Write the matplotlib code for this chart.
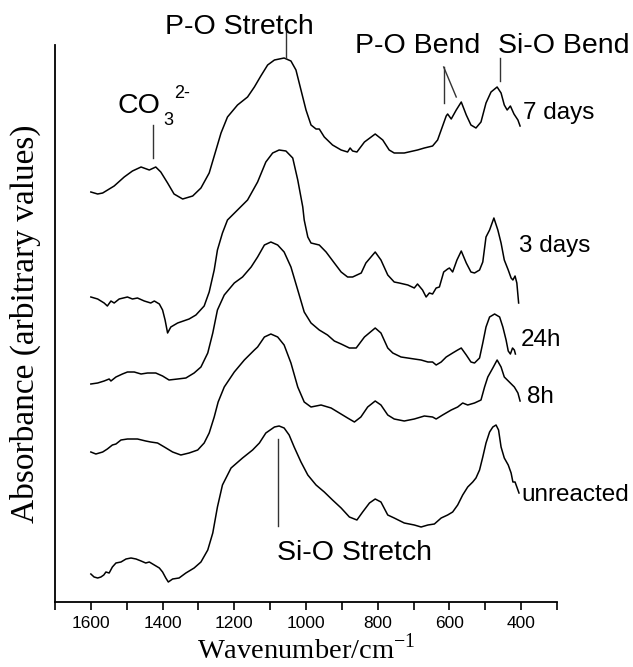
import numpy as np
import matplotlib
matplotlib.use('Agg')
import matplotlib.pyplot as plt
from matplotlib.ticker import MultipleLocator

# ─────────────────────────────────────────────
# 数据 (wavenumber / cm-1, absorbance in arbitrary units, offset stacked)
# ─────────────────────────────────────────────
wn_7d = [1600, 1581, 1567, 1535, 1507, 1484, 1460, 1437, 1419, 1405, 1386, 1368,
         1344, 1316, 1293, 1270, 1251, 1237, 1219, 1191, 1163, 1144, 1126, 1107,
         1088, 1061, 1042, 1028, 1014, 1000, 986, 972, 963, 949, 926, 902, 884,
         877, 870, 858, 837, 807, 786, 768, 754, 726, 689, 670, 647, 633, 623,
         609, 605, 595, 581, 567, 553, 540, 526, 512, 498, 484, 467, 456, 447,
         439, 430, 420, 409, 403]
abs_7d = [410, 408, 409, 416, 425, 431, 435, 432, 435, 430, 419, 408,
          403, 406, 414, 429, 452, 469, 485, 497, 505, 515, 526, 537,
          542, 544, 541, 532, 512, 492, 477, 473, 473, 465, 457, 452, 450,
          454, 451, 450, 460, 468, 462, 452, 449, 449, 452, 454, 456, 462, 472,
          486, 488, 483, 492, 500, 487, 477, 474, 480, 499, 510, 515, 509, 497,
          492, 496, 488, 482, 476]

wn_3d = [1600, 1581, 1563, 1554, 1544, 1535, 1521, 1498, 1484, 1470, 1451, 1433,
         1423, 1409, 1400, 1393, 1386, 1377, 1358, 1326, 1307, 1284, 1270, 1256,
         1247, 1233, 1219, 1191, 1163, 1135, 1112, 1093, 1075, 1056, 1037, 1023,
         1009, 1005, 995, 986, 963, 944, 921, 902, 884, 870, 846, 833, 807, 791,
         772, 754, 740, 716, 698, 689, 675, 665, 656, 647, 637, 628, 616, 605,
         600, 591, 579, 567, 553, 540, 530, 516, 507, 498, 488, 476, 465, 456,
         447, 436, 428, 423, 417, 412, 407]
abs_3d = [305, 303, 299, 296, 301, 299, 303, 305, 303, 304, 301, 299,
          301, 298, 292, 282, 269, 275, 279, 283, 287, 296, 310, 332,
          352, 369, 382, 392, 402, 420, 440, 449, 452, 451, 444, 422,
          395, 382, 365, 359, 357, 350, 339, 330, 325, 325, 329, 339, 350, 342,
          327, 320, 319, 317, 314, 318, 312, 305, 309, 308, 314, 315, 330, 333,
          334, 330, 342, 351, 339, 330, 329, 332, 340, 365, 372, 384, 372, 359,
          342, 332, 324, 322, 326, 319, 299]

wn_24h = [1600, 1581, 1563, 1549, 1544, 1530, 1512, 1498, 1479, 1460, 1442, 1419,
          1400, 1382, 1358, 1335, 1312, 1293, 1274, 1260, 1247, 1228, 1200, 1177,
          1153, 1135, 1116, 1098, 1079, 1061, 1042, 1023, 1005, 986, 963, 940,
          921, 902, 879, 860, 837, 807, 791, 772, 758, 735, 698, 679, 660, 647,
          637, 623, 609, 591, 577, 567, 553, 540, 530, 516, 507, 498, 488, 474,
          460, 451, 442, 436, 430, 424, 419, 416]
abs_24h = [218, 219, 221, 223, 221, 225, 228, 230, 230, 228, 229, 229,
           226, 222, 223, 224, 229, 235, 249, 269, 292, 307, 319, 325,
           335, 345, 357, 360, 357, 350, 335, 312, 290, 279, 272, 267,
           261, 258, 254, 254, 265, 274, 269, 254, 249, 245, 243, 242, 240, 240,
           237, 240, 245, 249, 252, 254, 247, 240, 239, 244, 259, 275, 285, 288,
           285, 275, 262, 251, 248, 254, 252, 248]

wn_8h = [1600, 1586, 1567, 1554, 1540, 1530, 1516, 1498, 1470, 1447, 1433, 1414,
         1395, 1372, 1349, 1326, 1302, 1284, 1270, 1256, 1245, 1228, 1200, 1172,
         1144, 1135, 1116, 1098, 1079, 1061, 1042, 1023, 1005, 986, 958, 930,
         907, 884, 865, 847, 828, 807, 791, 772, 754, 726, 698, 670, 647, 637,
         619, 595, 577, 563, 549, 530, 512, 502, 493, 479, 467, 456, 447, 433,
         419, 409, 403]
abs_8h = [150, 148, 150, 153, 157, 158, 162, 163, 163, 161, 160, 159,
          155, 150, 147, 149, 152, 159, 169, 185, 200, 215, 230, 242,
          252, 255, 265, 268, 265, 257, 239, 215, 200, 195, 197, 194,
          189, 184, 180, 185, 195, 201, 197, 187, 183, 181, 183, 186, 185, 183,
          187, 192, 195, 199, 197, 199, 202, 215, 225, 234, 242, 235, 225, 220,
          215, 209, 201]

wn_un = [1600, 1591, 1581, 1572, 1564, 1558, 1549, 1540, 1530, 1516, 1502, 1488,
         1474, 1460, 1447, 1437, 1423, 1409, 1400, 1391, 1384, 1372, 1354, 1335,
         1312, 1293, 1274, 1260, 1247, 1233, 1209, 1177, 1149, 1130, 1112, 1088,
         1075, 1061, 1047, 1033, 1014, 995, 972, 949, 926, 902, 879, 858, 842,
         823, 807, 791, 772, 754, 726, 698, 679, 660, 642, 623, 605, 591, 577,
         563, 549, 535, 526, 516, 507, 498, 488, 479, 470, 463, 456, 447, 436,
         428, 423, 417, 411, 406]
abs_un = [28, 25, 24, 25, 27, 30, 29, 35, 39, 40, 43, 44,
          43, 41, 39, 40, 37, 34, 30, 24, 20, 23, 24, 29,
          34, 40, 52, 69, 95, 117, 134, 144, 152, 159, 169, 175,
          176, 174, 167, 155, 140, 127, 117, 110, 102, 94, 85, 82, 90,
          99, 103, 100, 87, 84, 79, 77, 75, 77, 78, 84, 87, 90, 97,
          107, 115, 120, 124, 132, 145, 159, 170, 175, 177, 172, 155, 144, 137,
          129, 120, 120, 114, 109]

series = [(wn_7d, abs_7d), (wn_3d, abs_3d), (wn_24h, abs_24h),
          (wn_8h, abs_8h), (wn_un, abs_un)]

curve_labels = ['7 days', '3 days', '24h', '8h', 'unreacted']
label_pos = [(395, 489), (405, 356), (400, 262), (383, 205), (400, 107)]

# ─────────────────────────────────────────────
# 样式
# ─────────────────────────────────────────────
sans = 'Liberation Sans'
serif = 'Liberation Serif'
plt.rcParams['font.family'] = sans
plt.rcParams['mathtext.fontset'] = 'custom'
plt.rcParams['mathtext.rm'] = serif

fig = plt.figure(figsize=(6.33, 6.67), dpi=100)
ax = fig.add_axes([55 / 633, 65 / 667, 502 / 633, 557 / 667])

for wn, ab in series:
    ax.plot(wn, ab, color='black', linewidth=1.1)

ax.set_xlim(1700, 300)
ax.set_ylim(0, 557)

# ─────────────────────────────────────────────
# 曲线标签
# ─────────────────────────────────────────────
for lab, (x, y) in zip(curve_labels, label_pos):
    ax.text(x, y, lab, fontsize=17.5, ha='left', va='center', clip_on=False)

# ─────────────────────────────────────────────
# 峰位标注
# ─────────────────────────────────────────────
lc = '#333333'
fs = 20.5
ax.text(1185, 568, 'P-O Stretch', fontsize=fs, ha='center', va='baseline', clip_on=False)
ax.plot([1056, 1056], [575, 544], color=lc, lw=1.0, clip_on=False)

ax.text(690, 549, 'P-O Bend', fontsize=fs, ha='center', va='baseline', clip_on=False)
ax.plot([616, 616], [499, 535], color=lc, lw=1.0, clip_on=False)
ax.plot([616, 581], [535, 505], color=lc, lw=1.0, clip_on=False)

ax.text(280, 549, 'Si-O Bend', fontsize=fs, ha='center', va='baseline', clip_on=False)
ax.plot([458, 458], [544, 521], color=lc, lw=1.0, clip_on=False)

ax.text(1465, 489, 'CO', fontsize=fs, ha='center', va='baseline')
ax.text(1397, 477, '3', fontsize=13, ha='left', va='baseline')
ax.text(1369, 504, '2-', fontsize=13, ha='left', va='baseline')
ax.plot([1426, 1426], [477, 444], color=lc, lw=1.0)

ax.text(866, 42, 'Si-O Stretch', fontsize=fs, ha='center', va='baseline')
ax.plot([1079, 1079], [163, 76], color=lc, lw=1.0)

# ─────────────────────────────────────────────
# 坐标轴
# ─────────────────────────────────────────────
ax.xaxis.set_major_locator(MultipleLocator(200))
ax.xaxis.set_minor_locator(MultipleLocator(100))
ax.tick_params(axis='x', which='both', direction='out', length=6, width=1.2,
               labelsize=12.5, pad=4)
ax.set_yticks([])
for spine in ['top', 'right']:
    ax.spines[spine].set_visible(False)
for spine in ['left', 'bottom']:
    ax.spines[spine].set_linewidth(1.3)

ax.set_xlabel(r'Wavenumber/cm$^{\mathregular{-1}}$', fontsize=20.5,
              family=serif, labelpad=2)
ax.set_ylabel('Absorbance (arbitrary values)', fontsize=24,
              family=serif, labelpad=10)

fig.savefig('out.png', dpi=100, facecolor='white')
